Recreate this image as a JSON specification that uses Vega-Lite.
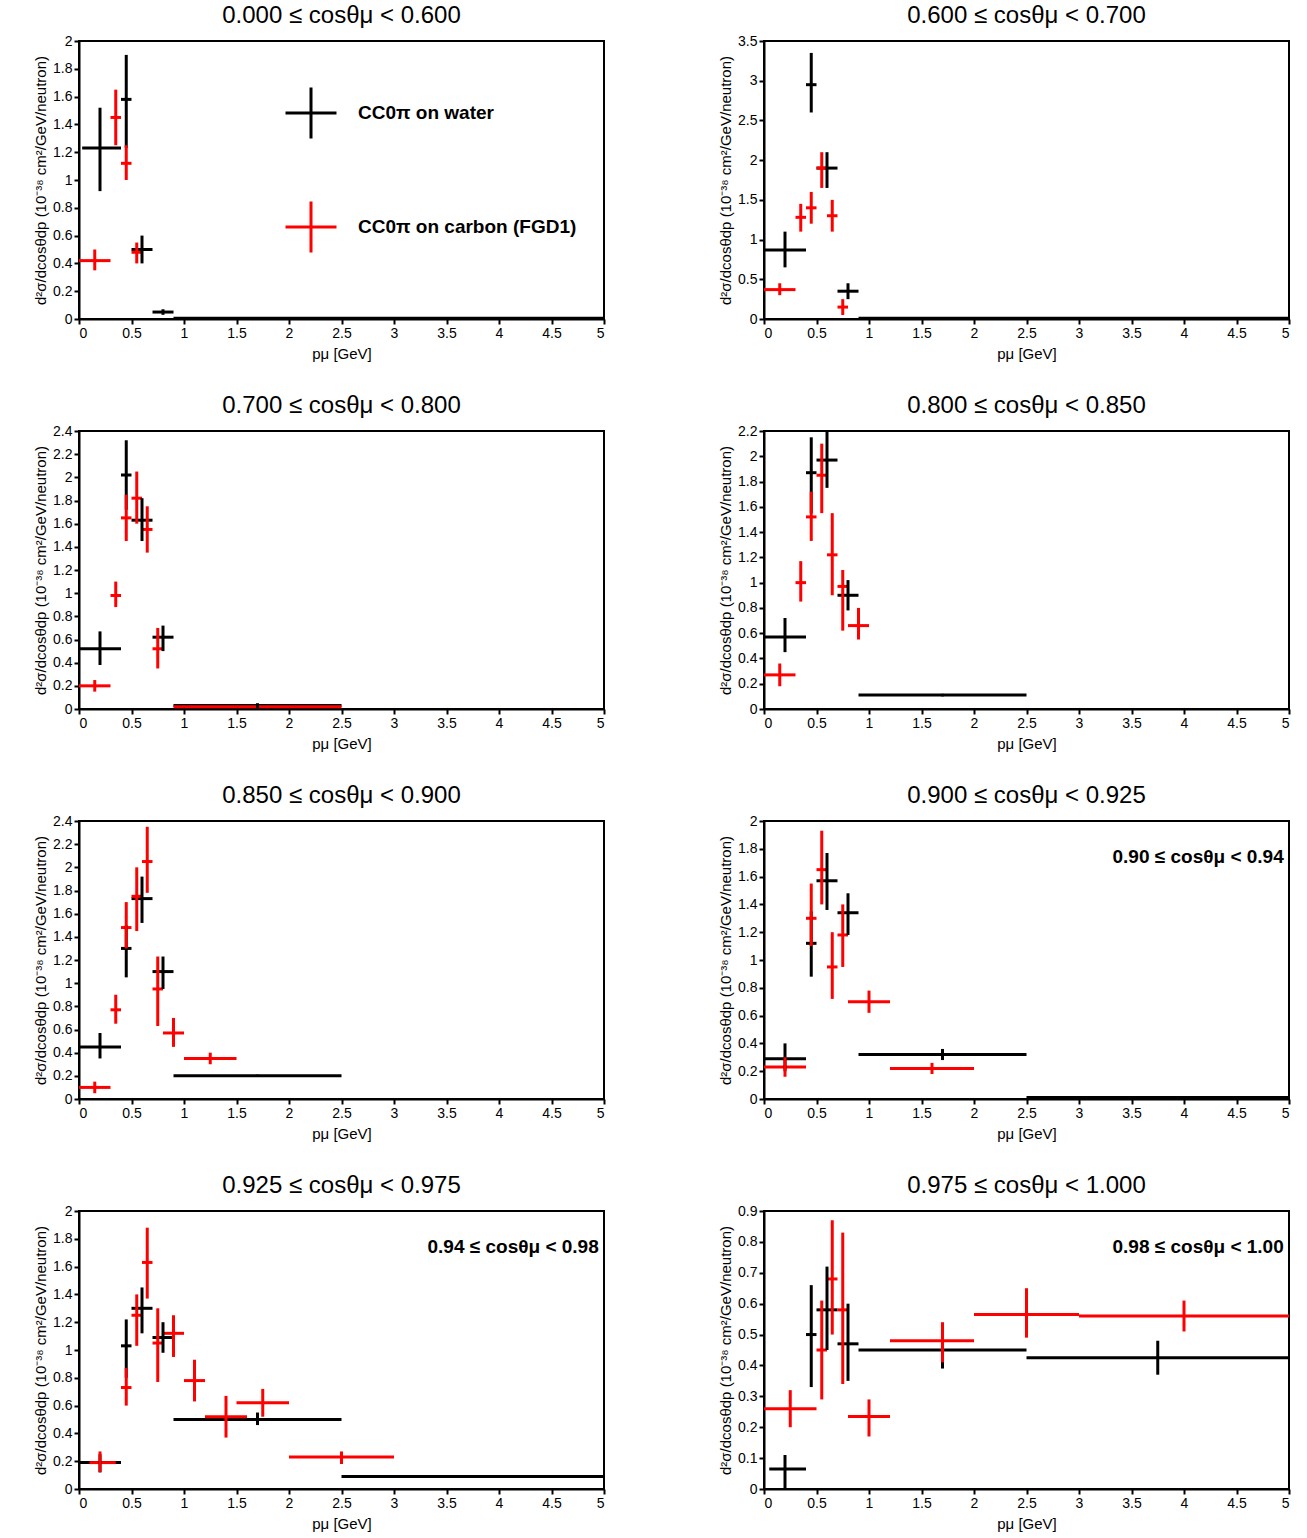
{
  "$schema": "https://vega.github.io/schema/vega-lite/v6.json",
  "background": "white",
  "padding": {"left": 32, "top": 3, "right": 10, "bottom": 5},
  "config": {
    "font": "Liberation Sans",
    "view": {"stroke": "black", "strokeWidth": 2},
    "axis": {"labelFontSize": 14, "titleFontSize": 15, "titleFontWeight": "normal", "grid": false, "domainColor": "black", "tickColor": "black", "labelColor": "black", "tickWidth": 2, "domainWidth": 2, "titleColor": "black"}
  },
  "data": {"values": [
    {"g":"0.000 ≤ cosθμ < 0.600","t":"water","p":0.2,"a":0.03,"b":0.4,"y":1.23,"l":0.92,"h":1.52},
    {"g":"0.000 ≤ cosθμ < 0.600","t":"water","p":0.45,"a":0.4,"b":0.5,"y":1.58,"l":1.23,"h":1.9},
    {"g":"0.000 ≤ cosθμ < 0.600","t":"water","p":0.6,"a":0.5,"b":0.7,"y":0.5,"l":0.4,"h":0.6},
    {"g":"0.000 ≤ cosθμ < 0.600","t":"water","p":0.8,"a":0.7,"b":0.9,"y":0.05,"l":0.03,"h":0.07},
    {"g":"0.000 ≤ cosθμ < 0.600","t":"water","p":2.9,"a":0.9,"b":5,"y":0.005,"l":0.005,"h":0.005},
    {"g":"0.000 ≤ cosθμ < 0.600","t":"carbon","p":0.15,"a":0.0,"b":0.3,"y":0.42,"l":0.35,"h":0.5},
    {"g":"0.000 ≤ cosθμ < 0.600","t":"carbon","p":0.35,"a":0.3,"b":0.4,"y":1.45,"l":1.25,"h":1.65},
    {"g":"0.000 ≤ cosθμ < 0.600","t":"carbon","p":0.45,"a":0.4,"b":0.5,"y":1.12,"l":1.0,"h":1.25},
    {"g":"0.000 ≤ cosθμ < 0.600","t":"carbon","p":0.55,"a":0.5,"b":0.6,"y":0.48,"l":0.4,"h":0.55},

    {"g":"0.600 ≤ cosθμ < 0.700","t":"water","p":0.2,"a":0.0,"b":0.4,"y":0.87,"l":0.65,"h":1.1},
    {"g":"0.600 ≤ cosθμ < 0.700","t":"water","p":0.45,"a":0.4,"b":0.5,"y":2.95,"l":2.6,"h":3.35},
    {"g":"0.600 ≤ cosθμ < 0.700","t":"water","p":0.6,"a":0.5,"b":0.7,"y":1.9,"l":1.65,"h":2.1},
    {"g":"0.600 ≤ cosθμ < 0.700","t":"water","p":0.8,"a":0.7,"b":0.9,"y":0.35,"l":0.25,"h":0.45},
    {"g":"0.600 ≤ cosθμ < 0.700","t":"water","p":2.9,"a":0.9,"b":5,"y":0.01,"l":0.01,"h":0.01},
    {"g":"0.600 ≤ cosθμ < 0.700","t":"carbon","p":0.15,"a":0.0,"b":0.3,"y":0.37,"l":0.3,"h":0.45},
    {"g":"0.600 ≤ cosθμ < 0.700","t":"carbon","p":0.35,"a":0.3,"b":0.4,"y":1.28,"l":1.1,"h":1.45},
    {"g":"0.600 ≤ cosθμ < 0.700","t":"carbon","p":0.45,"a":0.4,"b":0.5,"y":1.4,"l":1.2,"h":1.6},
    {"g":"0.600 ≤ cosθμ < 0.700","t":"carbon","p":0.55,"a":0.5,"b":0.6,"y":1.9,"l":1.65,"h":2.1},
    {"g":"0.600 ≤ cosθμ < 0.700","t":"carbon","p":0.65,"a":0.6,"b":0.7,"y":1.3,"l":1.1,"h":1.5},
    {"g":"0.600 ≤ cosθμ < 0.700","t":"carbon","p":0.75,"a":0.7,"b":0.8,"y":0.15,"l":0.05,"h":0.25},

    {"g":"0.700 ≤ cosθμ < 0.800","t":"water","p":0.2,"a":0.0,"b":0.4,"y":0.52,"l":0.38,"h":0.67},
    {"g":"0.700 ≤ cosθμ < 0.800","t":"water","p":0.45,"a":0.4,"b":0.5,"y":2.02,"l":1.72,"h":2.32},
    {"g":"0.700 ≤ cosθμ < 0.800","t":"water","p":0.6,"a":0.5,"b":0.7,"y":1.63,"l":1.45,"h":1.82},
    {"g":"0.700 ≤ cosθμ < 0.800","t":"water","p":0.8,"a":0.7,"b":0.9,"y":0.62,"l":0.5,"h":0.72},
    {"g":"0.700 ≤ cosθμ < 0.800","t":"water","p":1.7,"a":0.9,"b":2.5,"y":0.03,"l":0.01,"h":0.05},
    {"g":"0.700 ≤ cosθμ < 0.800","t":"carbon","p":0.15,"a":0.0,"b":0.3,"y":0.2,"l":0.15,"h":0.25},
    {"g":"0.700 ≤ cosθμ < 0.800","t":"carbon","p":0.35,"a":0.3,"b":0.4,"y":0.98,"l":0.88,"h":1.1},
    {"g":"0.700 ≤ cosθμ < 0.800","t":"carbon","p":0.45,"a":0.4,"b":0.5,"y":1.65,"l":1.45,"h":1.85},
    {"g":"0.700 ≤ cosθμ < 0.800","t":"carbon","p":0.55,"a":0.5,"b":0.6,"y":1.82,"l":1.6,"h":2.05},
    {"g":"0.700 ≤ cosθμ < 0.800","t":"carbon","p":0.65,"a":0.6,"b":0.7,"y":1.55,"l":1.35,"h":1.75},
    {"g":"0.700 ≤ cosθμ < 0.800","t":"carbon","p":0.75,"a":0.7,"b":0.8,"y":0.52,"l":0.35,"h":0.7},
    {"g":"0.700 ≤ cosθμ < 0.800","t":"carbon","p":1.7,"a":0.9,"b":2.5,"y":0.02,"l":0.02,"h":0.02},

    {"g":"0.800 ≤ cosθμ < 0.850","t":"water","p":0.2,"a":0.0,"b":0.4,"y":0.57,"l":0.45,"h":0.72},
    {"g":"0.800 ≤ cosθμ < 0.850","t":"water","p":0.45,"a":0.4,"b":0.5,"y":1.87,"l":1.55,"h":2.15},
    {"g":"0.800 ≤ cosθμ < 0.850","t":"water","p":0.6,"a":0.5,"b":0.7,"y":1.97,"l":1.75,"h":2.2},
    {"g":"0.800 ≤ cosθμ < 0.850","t":"water","p":0.8,"a":0.7,"b":0.9,"y":0.9,"l":0.78,"h":1.02},
    {"g":"0.800 ≤ cosθμ < 0.850","t":"water","p":1.7,"a":0.9,"b":2.5,"y":0.11,"l":0.1,"h":0.12},
    {"g":"0.800 ≤ cosθμ < 0.850","t":"carbon","p":0.15,"a":0.0,"b":0.3,"y":0.27,"l":0.18,"h":0.36},
    {"g":"0.800 ≤ cosθμ < 0.850","t":"carbon","p":0.35,"a":0.3,"b":0.4,"y":1.0,"l":0.85,"h":1.17},
    {"g":"0.800 ≤ cosθμ < 0.850","t":"carbon","p":0.45,"a":0.4,"b":0.5,"y":1.52,"l":1.33,"h":1.72},
    {"g":"0.800 ≤ cosθμ < 0.850","t":"carbon","p":0.55,"a":0.5,"b":0.6,"y":1.85,"l":1.55,"h":2.1},
    {"g":"0.800 ≤ cosθμ < 0.850","t":"carbon","p":0.65,"a":0.6,"b":0.7,"y":1.22,"l":0.9,"h":1.55},
    {"g":"0.800 ≤ cosθμ < 0.850","t":"carbon","p":0.75,"a":0.7,"b":0.8,"y":0.97,"l":0.62,"h":1.1},
    {"g":"0.800 ≤ cosθμ < 0.850","t":"carbon","p":0.9,"a":0.8,"b":1.0,"y":0.66,"l":0.55,"h":0.8},

    {"g":"0.850 ≤ cosθμ < 0.900","t":"water","p":0.2,"a":0.0,"b":0.4,"y":0.45,"l":0.35,"h":0.57},
    {"g":"0.850 ≤ cosθμ < 0.900","t":"water","p":0.45,"a":0.4,"b":0.5,"y":1.3,"l":1.05,"h":1.5},
    {"g":"0.850 ≤ cosθμ < 0.900","t":"water","p":0.6,"a":0.5,"b":0.7,"y":1.73,"l":1.52,"h":1.92},
    {"g":"0.850 ≤ cosθμ < 0.900","t":"water","p":0.8,"a":0.7,"b":0.9,"y":1.1,"l":0.95,"h":1.23},
    {"g":"0.850 ≤ cosθμ < 0.900","t":"water","p":1.7,"a":0.9,"b":2.5,"y":0.2,"l":0.19,"h":0.21},
    {"g":"0.850 ≤ cosθμ < 0.900","t":"carbon","p":0.15,"a":0.0,"b":0.3,"y":0.1,"l":0.05,"h":0.15},
    {"g":"0.850 ≤ cosθμ < 0.900","t":"carbon","p":0.35,"a":0.3,"b":0.4,"y":0.77,"l":0.65,"h":0.9},
    {"g":"0.850 ≤ cosθμ < 0.900","t":"carbon","p":0.45,"a":0.4,"b":0.5,"y":1.48,"l":1.3,"h":1.7},
    {"g":"0.850 ≤ cosθμ < 0.900","t":"carbon","p":0.55,"a":0.5,"b":0.6,"y":1.75,"l":1.45,"h":2.0},
    {"g":"0.850 ≤ cosθμ < 0.900","t":"carbon","p":0.65,"a":0.6,"b":0.7,"y":2.05,"l":1.78,"h":2.35},
    {"g":"0.850 ≤ cosθμ < 0.900","t":"carbon","p":0.75,"a":0.7,"b":0.8,"y":0.95,"l":0.63,"h":1.23},
    {"g":"0.850 ≤ cosθμ < 0.900","t":"carbon","p":0.9,"a":0.8,"b":1.0,"y":0.57,"l":0.45,"h":0.7},
    {"g":"0.850 ≤ cosθμ < 0.900","t":"carbon","p":1.25,"a":1.0,"b":1.5,"y":0.35,"l":0.3,"h":0.4},

    {"g":"0.900 ≤ cosθμ < 0.925","t":"water","p":0.2,"a":0.0,"b":0.4,"y":0.29,"l":0.2,"h":0.4},
    {"g":"0.900 ≤ cosθμ < 0.925","t":"water","p":0.45,"a":0.4,"b":0.5,"y":1.12,"l":0.88,"h":1.35},
    {"g":"0.900 ≤ cosθμ < 0.925","t":"water","p":0.6,"a":0.5,"b":0.7,"y":1.57,"l":1.36,"h":1.77},
    {"g":"0.900 ≤ cosθμ < 0.925","t":"water","p":0.8,"a":0.7,"b":0.9,"y":1.34,"l":1.18,"h":1.48},
    {"g":"0.900 ≤ cosθμ < 0.925","t":"water","p":1.7,"a":0.9,"b":2.5,"y":0.32,"l":0.28,"h":0.36},
    {"g":"0.900 ≤ cosθμ < 0.925","t":"water","p":3.75,"a":2.5,"b":5,"y":0.01,"l":0.01,"h":0.01},
    {"g":"0.900 ≤ cosθμ < 0.925","t":"carbon","p":0.2,"a":0.0,"b":0.4,"y":0.23,"l":0.16,"h":0.3},
    {"g":"0.900 ≤ cosθμ < 0.925","t":"carbon","p":0.45,"a":0.4,"b":0.5,"y":1.3,"l":1.1,"h":1.55},
    {"g":"0.900 ≤ cosθμ < 0.925","t":"carbon","p":0.55,"a":0.5,"b":0.6,"y":1.65,"l":1.4,"h":1.93},
    {"g":"0.900 ≤ cosθμ < 0.925","t":"carbon","p":0.65,"a":0.6,"b":0.7,"y":0.95,"l":0.72,"h":1.2},
    {"g":"0.900 ≤ cosθμ < 0.925","t":"carbon","p":0.75,"a":0.7,"b":0.8,"y":1.18,"l":0.95,"h":1.4},
    {"g":"0.900 ≤ cosθμ < 0.925","t":"carbon","p":1.0,"a":0.8,"b":1.2,"y":0.7,"l":0.62,"h":0.78},
    {"g":"0.900 ≤ cosθμ < 0.925","t":"carbon","p":1.6,"a":1.2,"b":2.0,"y":0.22,"l":0.18,"h":0.26},
    {"g":"0.900 ≤ cosθμ < 0.925","note":"0.90 ≤ cosθμ < 0.94"},

    {"g":"0.925 ≤ cosθμ < 0.975","t":"water","p":0.2,"a":0.0,"b":0.4,"y":0.19,"l":0.12,"h":0.25},
    {"g":"0.925 ≤ cosθμ < 0.975","t":"water","p":0.45,"a":0.4,"b":0.5,"y":1.03,"l":0.8,"h":1.22},
    {"g":"0.925 ≤ cosθμ < 0.975","t":"water","p":0.6,"a":0.5,"b":0.7,"y":1.3,"l":1.12,"h":1.45},
    {"g":"0.925 ≤ cosθμ < 0.975","t":"water","p":0.8,"a":0.7,"b":0.9,"y":1.09,"l":0.98,"h":1.2},
    {"g":"0.925 ≤ cosθμ < 0.975","t":"water","p":1.7,"a":0.9,"b":2.5,"y":0.5,"l":0.46,"h":0.55},
    {"g":"0.925 ≤ cosθμ < 0.975","t":"water","p":3.75,"a":2.5,"b":5,"y":0.09,"l":0.09,"h":0.09},
    {"g":"0.925 ≤ cosθμ < 0.975","t":"carbon","p":0.2,"a":0.1,"b":0.35,"y":0.19,"l":0.12,"h":0.27},
    {"g":"0.925 ≤ cosθμ < 0.975","t":"carbon","p":0.45,"a":0.4,"b":0.5,"y":0.73,"l":0.6,"h":0.87},
    {"g":"0.925 ≤ cosθμ < 0.975","t":"carbon","p":0.55,"a":0.5,"b":0.6,"y":1.25,"l":1.03,"h":1.4},
    {"g":"0.925 ≤ cosθμ < 0.975","t":"carbon","p":0.65,"a":0.6,"b":0.7,"y":1.63,"l":1.37,"h":1.88},
    {"g":"0.925 ≤ cosθμ < 0.975","t":"carbon","p":0.75,"a":0.7,"b":0.8,"y":1.05,"l":0.77,"h":1.3},
    {"g":"0.925 ≤ cosθμ < 0.975","t":"carbon","p":0.9,"a":0.8,"b":1.0,"y":1.12,"l":0.95,"h":1.25},
    {"g":"0.925 ≤ cosθμ < 0.975","t":"carbon","p":1.1,"a":1.0,"b":1.2,"y":0.78,"l":0.63,"h":0.93},
    {"g":"0.925 ≤ cosθμ < 0.975","t":"carbon","p":1.4,"a":1.2,"b":1.6,"y":0.52,"l":0.37,"h":0.67},
    {"g":"0.925 ≤ cosθμ < 0.975","t":"carbon","p":1.75,"a":1.5,"b":2.0,"y":0.62,"l":0.52,"h":0.72},
    {"g":"0.925 ≤ cosθμ < 0.975","t":"carbon","p":2.5,"a":2.0,"b":3.0,"y":0.23,"l":0.18,"h":0.27},
    {"g":"0.925 ≤ cosθμ < 0.975","note":"0.94 ≤ cosθμ < 0.98"},

    {"g":"0.975 ≤ cosθμ < 1.000","t":"water","p":0.2,"a":0.05,"b":0.4,"y":0.065,"l":0.0,"h":0.11},
    {"g":"0.975 ≤ cosθμ < 1.000","t":"water","p":0.45,"a":0.4,"b":0.5,"y":0.5,"l":0.33,"h":0.66},
    {"g":"0.975 ≤ cosθμ < 1.000","t":"water","p":0.6,"a":0.5,"b":0.7,"y":0.58,"l":0.45,"h":0.72},
    {"g":"0.975 ≤ cosθμ < 1.000","t":"water","p":0.8,"a":0.7,"b":0.9,"y":0.47,"l":0.35,"h":0.6},
    {"g":"0.975 ≤ cosθμ < 1.000","t":"water","p":1.7,"a":0.9,"b":2.5,"y":0.45,"l":0.39,"h":0.51},
    {"g":"0.975 ≤ cosθμ < 1.000","t":"water","p":3.75,"a":2.5,"b":5,"y":0.425,"l":0.37,"h":0.48},
    {"g":"0.975 ≤ cosθμ < 1.000","t":"carbon","p":0.25,"a":0.0,"b":0.5,"y":0.26,"l":0.2,"h":0.32},
    {"g":"0.975 ≤ cosθμ < 1.000","t":"carbon","p":0.55,"a":0.5,"b":0.6,"y":0.45,"l":0.29,"h":0.61},
    {"g":"0.975 ≤ cosθμ < 1.000","t":"carbon","p":0.65,"a":0.6,"b":0.7,"y":0.68,"l":0.5,"h":0.87},
    {"g":"0.975 ≤ cosθμ < 1.000","t":"carbon","p":0.75,"a":0.7,"b":0.8,"y":0.58,"l":0.34,"h":0.83},
    {"g":"0.975 ≤ cosθμ < 1.000","t":"carbon","p":1.0,"a":0.8,"b":1.2,"y":0.235,"l":0.17,"h":0.29},
    {"g":"0.975 ≤ cosθμ < 1.000","t":"carbon","p":1.7,"a":1.2,"b":2.0,"y":0.48,"l":0.41,"h":0.54},
    {"g":"0.975 ≤ cosθμ < 1.000","t":"carbon","p":2.5,"a":2.0,"b":3.0,"y":0.565,"l":0.49,"h":0.65},
    {"g":"0.975 ≤ cosθμ < 1.000","t":"carbon","p":4.0,"a":3.0,"b":5.0,"y":0.56,"l":0.51,"h":0.61},
    {"g":"0.975 ≤ cosθμ < 1.000","note":"0.98 ≤ cosθμ < 1.00"}
  ]},
  "facet": {"field": "g", "type": "nominal", "header": {"title": null, "labelFontSize": 24, "labelColor": "black", "labelPadding": 6}},
  "columns": 2,
  "spacing": {"column": 110, "row": 31},
  "resolve": {"scale": {"y": "independent"}, "axis": {"x": "independent"}},
  "spec": {
    "width": 525,
    "height": 278,
    "encoding": {
      "x": {"type": "quantitative", "scale": {"domain": [0, 5], "nice": false}, "axis": {"title": "pμ [GeV]", "values": [0,0.5,1,1.5,2,2.5,3,3.5,4,4.5,5], "format": "~g", "titlePadding": 6}},
      "color": {"field": "t", "type": "nominal", "scale": {"domain": ["water", "carbon"], "range": ["black", "#ff0000"]},
        "legend": {"title": null, "orient": "none", "legendX": 205, "legendY": 45, "symbolType": "M-1,0H1M0,-1V1", "symbolSize": 2600, "symbolStrokeWidth": 3, "labelFontSize": 19, "labelFontWeight": "bold", "labelColor": "black", "labelLimit": 0, "rowPadding": 50, "labelOffset": 20,
          "labelExpr": "datum.label == 'water' ? 'CC0π on water' : 'CC0π on carbon (FGD1)'"}}
    },
    "layer": [
      {
        "transform": [{"filter": "isValid(datum.y)"}],
        "mark": {"type": "rule", "strokeWidth": 3},
        "encoding": {
          "x": {"field": "a", "type": "quantitative"},
          "x2": {"field": "b"},
          "y": {"field": "y", "type": "quantitative", "axis": {"title": "d²σ/dcosθdp (10⁻³⁸ cm²/GeV/neutron)", "tickCount": 10, "format": "~g"}}
        }
      },
      {
        "transform": [{"filter": "isValid(datum.y)"}],
        "mark": {"type": "rule", "strokeWidth": 3},
        "encoding": {
          "x": {"field": "p", "type": "quantitative"},
          "y": {"field": "l", "type": "quantitative"},
          "y2": {"field": "h"}
        }
      },
      {
        "transform": [{"filter": "isValid(datum.note)"}],
        "mark": {"type": "text", "fontSize": 19, "fontWeight": "bold", "align": "right"},
        "encoding": {
          "x": {"datum": 4.95},
          "y": {"value": 36},
          "text": {"field": "note"},
          "color": {"value": "black"}
        }
      }
    ]
  }
}
